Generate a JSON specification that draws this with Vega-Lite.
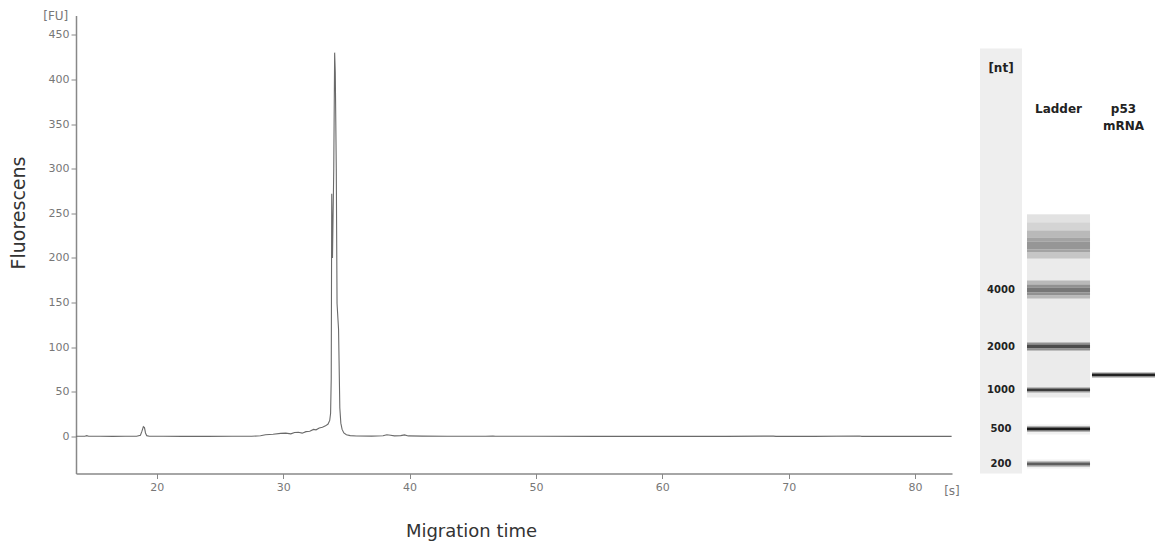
{
  "$schema": "https://vega.github.io/schema/vega-lite/v6.json",
  "padding": {"left": 9, "top": 9.5, "right": 0, "bottom": 0},
  "background": "white",
  "bounds": "flush",
  "spacing": 28,
  "config": {
    "view": {"stroke": null},
    "font": "DejaVu Sans"
  },
  "datasets": {
    "trace": [
      {"t":13.6,"fu":0.3},{"t":14.3,"fu":0.3},{"t":14.45,"fu":1.0},{"t":14.6,"fu":0.3},{"t":15.5,"fu":0.3},{"t":16.5,"fu":0.2},{"t":17.5,"fu":0.3},{"t":18.4,"fu":0.3},{"t":18.7,"fu":1.5},{"t":18.82,"fu":6},{"t":18.93,"fu":11},{"t":19.02,"fu":10},{"t":19.1,"fu":4},{"t":19.2,"fu":1},{"t":19.4,"fu":0.4},{"t":20.5,"fu":0.3},{"t":22,"fu":0.2},{"t":24,"fu":0.2},{"t":26,"fu":0.3},{"t":27.5,"fu":0.4},{"t":28.2,"fu":0.8},{"t":28.6,"fu":2},{"t":29.2,"fu":2.5},{"t":29.8,"fu":3.5},{"t":30.2,"fu":3.8},{"t":30.6,"fu":3},{"t":30.9,"fu":4.5},{"t":31.2,"fu":4.8},{"t":31.5,"fu":3.8},{"t":31.8,"fu":5.5},{"t":32.1,"fu":6},{"t":32.4,"fu":8},{"t":32.6,"fu":7.5},{"t":32.85,"fu":9.5},{"t":33.1,"fu":10.5},{"t":33.35,"fu":12},{"t":33.55,"fu":14},{"t":33.68,"fu":18},{"t":33.75,"fu":26},{"t":33.8,"fu":65},{"t":33.84,"fu":272},{"t":33.9,"fu":200},{"t":34.0,"fu":300},{"t":34.07,"fu":430},{"t":34.12,"fu":408},{"t":34.2,"fu":300},{"t":34.26,"fu":149},{"t":34.38,"fu":120},{"t":34.42,"fu":85},{"t":34.48,"fu":32},{"t":34.56,"fu":15},{"t":34.66,"fu":8},{"t":34.8,"fu":4},{"t":35.0,"fu":2},{"t":35.3,"fu":1},{"t":35.8,"fu":0.6},{"t":37,"fu":0.5},{"t":37.9,"fu":0.8},{"t":38.2,"fu":2},{"t":38.5,"fu":1.5},{"t":38.8,"fu":0.8},{"t":39.3,"fu":1},{"t":39.6,"fu":1.8},{"t":39.9,"fu":0.7},{"t":41,"fu":0.5},{"t":43,"fu":0.4},{"t":46,"fu":0.3},{"t":46.6,"fu":0.6},{"t":46.8,"fu":0.3},{"t":50,"fu":0.3},{"t":55,"fu":0.2},{"t":60,"fu":0.2},{"t":62,"fu":0.4},{"t":62.2,"fu":0.2},{"t":65,"fu":0.2},{"t":68.8,"fu":0.5},{"t":69,"fu":0.2},{"t":72,"fu":0.2},{"t":75.6,"fu":0.6},{"t":75.8,"fu":0.2},{"t":79,"fu":0.2},{"t":82.9,"fu":0.2}
    ],
    "sizes": [
      {"nt":"4000","mig":274.5},{"nt":"2000","mig":331},{"nt":"1000","mig":374.5},{"nt":"500","mig":413.5},{"nt":"200","mig":448.5}
    ],
    "gel": [
      {"lane":"Ladder","top":199,"bottom":382,"intensity":0.07},
      {"lane":"Ladder","top":199,"bottom":207,"intensity":0.1},
      {"lane":"Ladder","top":207,"bottom":215,"intensity":0.15},
      {"lane":"Ladder","top":215,"bottom":222,"intensity":0.25},
      {"lane":"Ladder","top":222,"bottom":226,"intensity":0.33},
      {"lane":"Ladder","top":226,"bottom":234,"intensity":0.38},
      {"lane":"Ladder","top":234,"bottom":237,"intensity":0.33},
      {"lane":"Ladder","top":237,"bottom":243,"intensity":0.2},
      {"lane":"Ladder","top":265,"bottom":269,"intensity":0.25},
      {"lane":"Ladder","top":269,"bottom":272,"intensity":0.4},
      {"lane":"Ladder","top":272,"bottom":277,"intensity":0.5},
      {"lane":"Ladder","top":277,"bottom":280,"intensity":0.4},
      {"lane":"Ladder","top":280,"bottom":283,"intensity":0.25},
      {"lane":"Ladder","top":327,"bottom":329,"intensity":0.4},
      {"lane":"Ladder","top":329,"bottom":333,"intensity":0.68},
      {"lane":"Ladder","top":333,"bottom":335,"intensity":0.4},
      {"lane":"Ladder","top":372,"bottom":373,"intensity":0.4},
      {"lane":"Ladder","top":373,"bottom":376,"intensity":0.75},
      {"lane":"Ladder","top":376,"bottom":377,"intensity":0.35},
      {"lane":"Ladder","top":409,"bottom":419,"intensity":0.05},
      {"lane":"Ladder","top":411,"bottom":412,"intensity":0.5},
      {"lane":"Ladder","top":412,"bottom":415,"intensity":0.9},
      {"lane":"Ladder","top":415,"bottom":416,"intensity":0.5},
      {"lane":"Ladder","top":444,"bottom":453,"intensity":0.05},
      {"lane":"Ladder","top":446,"bottom":447,"intensity":0.4},
      {"lane":"Ladder","top":447,"bottom":450,"intensity":0.6},
      {"lane":"Ladder","top":450,"bottom":451,"intensity":0.4},
      {"lane":"p53 mRNA","top":357,"bottom":358,"intensity":0.4},
      {"lane":"p53 mRNA","top":358,"bottom":361,"intensity":0.87},
      {"lane":"p53 mRNA","top":361,"bottom":362,"intensity":0.4}
    ],
    "lanes": [
      {"lane":"Ladder","label":"Ladder"},
      {"lane":"p53 mRNA","label":"p53\nmRNA"}
    ],
    "ntcol": [
      {"top":33,"bottom":458,"intensity":0.06}
    ]
  },
  "hconcat": [
    {
      "width": 876,
      "height": 458,
      "layer": [
        {
          "data": {"name": "trace"},
          "mark": {"type": "line", "color": "#6a6a6a", "strokeWidth": 1.1},
          "encoding": {
            "x": {
              "field": "t", "type": "quantitative",
              "scale": {"domain": [13.6, 82.93], "nice": false, "zero": false},
              "axis": {
                "title": "Migration time", "values": [20,30,40,50,60,70,80],
                "grid": false, "domainColor": "#888", "domainWidth": 1.5,
                "tickColor": "#888", "tickSize": 5, "tickWidth": 1,
                "labelColor": "#777", "labelFont": "DejaVu Sans", "labelFontSize": 11, "labelPadding": 3,
                "titleColor": "#333", "titleFont": "DejaVu Sans", "titleFontSize": 18, "titleFontWeight": "normal",
                "titleX": 395, "titlePadding": 30
              }
            },
            "y": {
              "field": "fu", "type": "quantitative",
              "scale": {"domain": [-41.4, 471.6], "nice": false, "zero": false},
              "axis": {
                "title": "Fluorescens", "values": [0,50,100,150,200,250,300,350,400,450],
                "grid": false, "domainColor": "#888", "domainWidth": 1.5,
                "tickColor": "#888", "tickSize": 5, "tickWidth": 1,
                "labelColor": "#777", "labelFont": "DejaVu Sans", "labelFontSize": 11, "labelPadding": 2,
                "titleColor": "#333", "titleFont": "DejaVu Sans", "titleFontSize": 19, "titleFontWeight": "normal",
                "titleY": 197, "titlePadding": 20
              }
            }
          }
        },
        {
          "data": {"values": [{"unit": "[FU]"}]},
          "mark": {"type": "text", "font": "DejaVu Sans", "fontSize": 12, "color": "#777", "align": "center", "baseline": "middle"},
          "encoding": {
            "text": {"field": "unit"},
            "x": {"datum": 12.0, "type": "quantitative", "scale": {"domain": [13.6, 82.93], "nice": false, "zero": false}},
            "y": {"datum": 471.6, "type": "quantitative", "scale": {"domain": [-41.4, 471.6], "nice": false, "zero": false}}
          }
        },
        {
          "data": {"values": [{"unit": "[s]"}]},
          "mark": {"type": "text", "font": "DejaVu Sans", "fontSize": 12, "color": "#777", "align": "center", "baseline": "middle"},
          "encoding": {
            "text": {"field": "unit"},
            "x": {"datum": 82.93, "type": "quantitative", "scale": {"domain": [13.6, 82.93], "nice": false, "zero": false}},
            "y": {"datum": -60.5, "type": "quantitative", "scale": {"domain": [-41.4, 471.6], "nice": false, "zero": false}}
          }
        }
      ]
    },
    {
      "bounds": "flush",
      "spacing": 5,
      "hconcat": [
        {
          "width": 42,
          "height": 458,
          "layer": [
            {
              "data": {"name": "ntcol"},
              "mark": {"type": "rect"},
              "encoding": {
                "y": {"field": "top", "type": "quantitative", "scale": {"domain": [0, 458], "reverse": true, "nice": false, "zero": false}, "axis": null},
                "y2": {"field": "bottom"},
                "color": {"field": "intensity", "type": "quantitative", "scale": {"domain": [0, 1], "range": ["#ffffff", "#000000"]}, "legend": null}
              }
            },
            {
              "data": {"name": "sizes"},
              "mark": {"type": "text", "font": "DejaVu Sans", "fontWeight": "bold", "fontSize": 10, "color": "#222", "align": "center", "baseline": "middle"},
              "encoding": {
                "y": {"field": "mig", "type": "quantitative", "scale": {"domain": [0, 458], "reverse": true, "nice": false, "zero": false}, "axis": null},
                "text": {"field": "nt"}
              }
            },
            {
              "data": {"values": [{"unit": "[nt]"}]},
              "mark": {"type": "text", "font": "DejaVu Sans", "fontWeight": "bold", "fontSize": 12, "color": "#222", "align": "center", "baseline": "middle"},
              "encoding": {
                "text": {"field": "unit"},
                "y": {"datum": 52, "type": "quantitative", "scale": {"domain": [0, 458], "reverse": true, "nice": false, "zero": false}, "axis": null}
              }
            }
          ]
        },
        {
          "width": 128,
          "height": 458,
          "layer": [
            {
              "data": {"name": "gel"},
              "mark": {"type": "rect"},
              "encoding": {
                "x": {"field": "lane", "type": "nominal", "sort": null, "scale": {"domain": ["Ladder", "p53 mRNA"], "paddingInner": 0.03, "paddingOuter": 0}, "axis": null},
                "y": {"field": "top", "type": "quantitative", "scale": {"domain": [0, 458], "reverse": true, "nice": false, "zero": false}, "axis": null},
                "y2": {"field": "bottom"},
                "color": {"field": "intensity", "type": "quantitative", "scale": {"domain": [0, 1], "range": ["#ffffff", "#000000"]}, "legend": null}
              }
            },
            {
              "data": {"name": "lanes"},
              "mark": {"type": "text", "font": "DejaVu Sans", "fontWeight": "bold", "fontSize": 12, "color": "#222", "align": "center", "baseline": "top", "lineBreak": "\n", "lineHeight": 17},
              "encoding": {
                "x": {"field": "lane", "type": "nominal", "sort": null, "scale": {"domain": ["Ladder", "p53 mRNA"], "paddingInner": 0.03, "paddingOuter": 0}, "axis": null},
                "y": {"datum": 88, "type": "quantitative", "scale": {"domain": [0, 458], "reverse": true, "nice": false, "zero": false}, "axis": null},
                "text": {"field": "label"}
              }
            }
          ]
        }
      ]
    }
  ]
}
